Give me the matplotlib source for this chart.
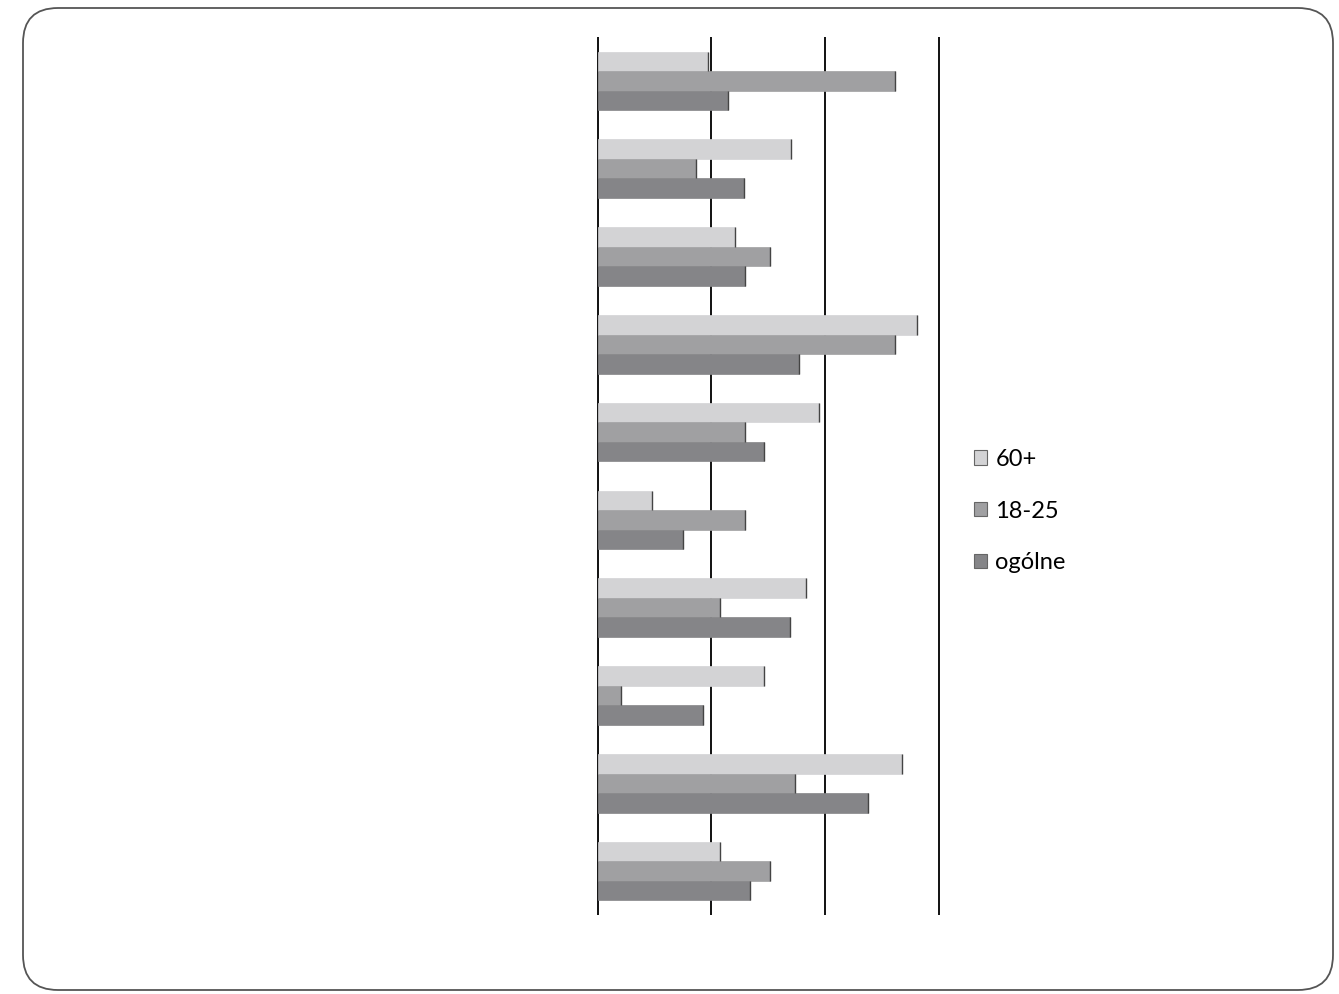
import matplotlib
matplotlib.use("Agg")
import matplotlib.pyplot as plt
import numpy as np
from matplotlib.patches import FancyBboxPatch, Patch

# Data (top to bottom), in gridline units (gridlines at 0, 10, 20, 30)
groups = list(range(1, 11))
series_names = ["60+", "18-25", "ogólne"]
v60 = [9.7, 17.0, 12.05, 28.1, 19.45, 4.75, 18.3, 14.6, 26.8, 10.8]
v1825 = [26.2, 8.7, 15.2, 26.2, 13.0, 13.0, 10.8, 2.1, 17.4, 15.2]
vogol = [11.5, 12.9, 13.0, 17.7, 14.6, 7.5, 16.9, 9.25, 23.8, 13.4]
gridlines = [0, 10, 20, 30]

colors = ["#d3d3d5", "#a0a0a2", "#858588"]

plt.rcParams['font.family'] = ['Lato', 'DejaVu Sans']

fig = plt.figure(figsize=(13.39, 9.94), dpi=100)
ax = fig.add_axes([597 / 1339, 1 - 915 / 994, 345 / 1339, 878 / 994])

y = np.arange(len(groups))
h = 0.222
for i, (vals, col) in enumerate(zip([v60, v1825, vogol], colors)):
    ax.barh(y + (i - 1) * h, vals, height=h, color=col, edgecolor=col,
            linewidth=0.5, zorder=2, label=series_names[i])
    # dark end line of each bar
    ax.vlines(vals, y + (i - 1) * h - h / 2, y + (i - 1) * h + h / 2,
              color="#444444", linewidth=1.0, zorder=3)

for g in gridlines:
    ax.axvline(g, color="#111111", linewidth=1.4, zorder=1)

ax.set_xlim(-0.05, 30.3)
ax.set_ylim(len(groups) - 0.5, -0.5)
for s in ax.spines.values():
    s.set_visible(False)
ax.set_xticks([])
ax.set_yticks([])
ax.patch.set_alpha(0)

handles = [Patch(facecolor=c, edgecolor="#666666", linewidth=0.8) for c in colors]
fig.legend(handles, series_names, loc="center left",
           bbox_to_anchor=(953 / 1339, 1 - 511 / 994), frameon=False,
           fontsize=17, handlelength=0.55, handleheight=0.55,
           handletextpad=0.35, labelspacing=1.3)

frame = FancyBboxPatch((0.23, 0.04), 13.33 - 0.23, 9.86 - 0.04,
                       boxstyle="round,pad=0,rounding_size=0.35",
                       transform=fig.dpi_scale_trans, facecolor="none",
                       edgecolor="#555555", linewidth=1.3)
fig.patches.append(frame)

fig.savefig("out.png", dpi=100)
